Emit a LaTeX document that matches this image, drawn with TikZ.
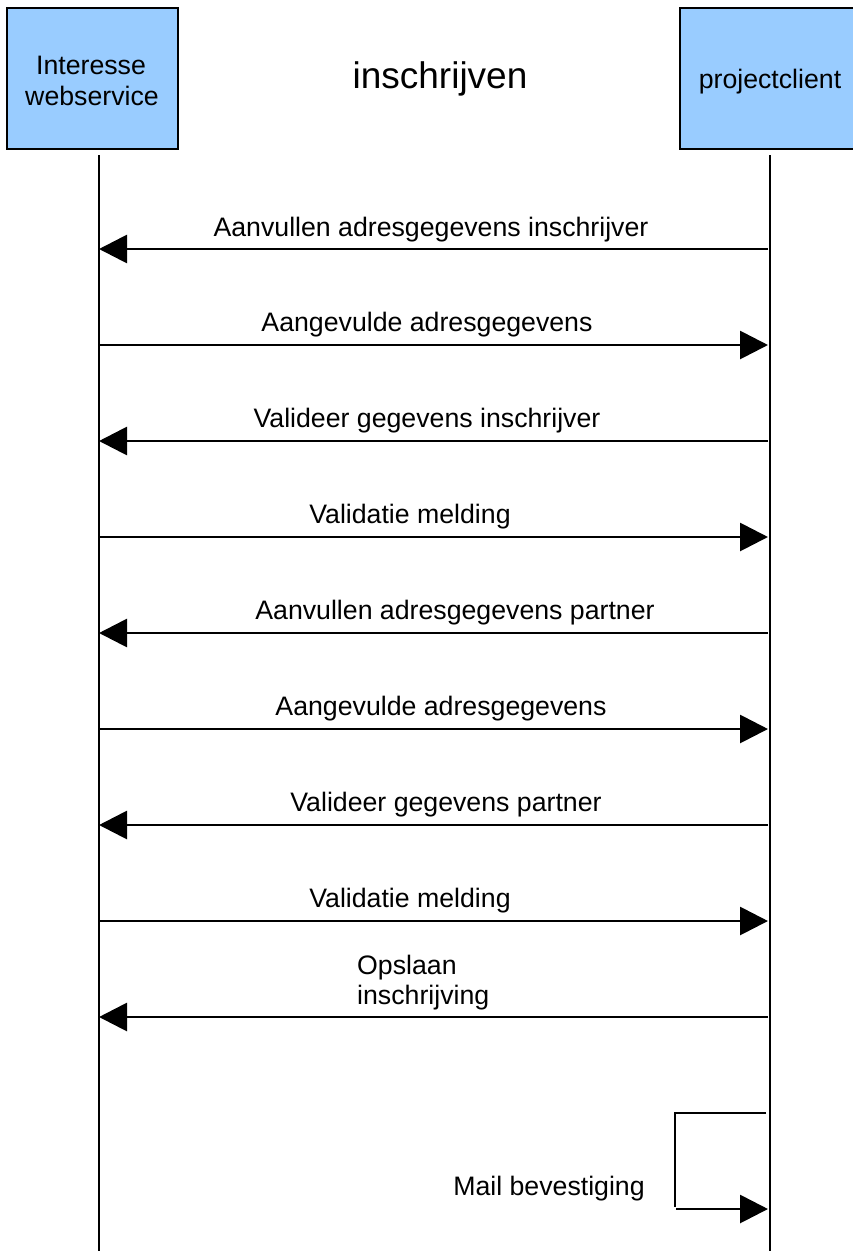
\documentclass[tikz,border=0pt]{standalone}
\usepackage{fontspec}
\setmainfont{Liberation Sans}
\usetikzlibrary{arrows.meta}
\begin{document}
\begin{tikzpicture}[x=1pt,y=-1pt,
  actor/.style={draw=black,line width=1.5pt,fill={rgb,255:red,153;green,204;blue,255}},
  life/.style={line width=1.5pt},
  msg/.style={line width=2.8pt,-{Triangle[length=28pt,width=28pt]}},
  lbl/.style={font=\fontsize{26.7}{30}\selectfont,anchor=base,inner sep=0pt},
  title/.style={font=\fontsize{37}{44}\selectfont,anchor=base,inner sep=0pt}]
\useasboundingbox (0,0) rectangle (853,1251);
% actor boxes
\draw[actor] (7,8) rectangle (178,149);
\draw[actor] (680,8) rectangle (860,149);
\node[lbl] (ia) at (91,74) {Interesse};
\node[lbl] (ib) at (92,105) {webservice};
\node[lbl] (pc) at (770,88) {projectclient};
\node[title] (t) at (440,88) {inschrijven};
% lifelines
\coordinate (L0) at (99,155); \coordinate (L1) at (99,1251);
\coordinate (R0) at (770,155); \coordinate (R1) at (770,1251);
\draw[life] (L0) -- (L1);
\draw[life] (R0) -- (R1);
% messages
\foreach \i/\y in {1/249,2/345,3/441,4/537,5/633,6/729,7/825,8/921,9/1017}{
  \coordinate (l\i) at (99,\y);
  \coordinate (r\i) at (768,\y);
}
\draw[msg] (r1) -- (l1);
\draw[msg] (l2) -- (r2);
\draw[msg] (r3) -- (l3);
\draw[msg] (l4) -- (r4);
\draw[msg] (r5) -- (l5);
\draw[msg] (l6) -- (r6);
\draw[msg] (r7) -- (l7);
\draw[msg] (l8) -- (r8);
\draw[msg] (r9) -- (l9);
\node[lbl] (m1) at (431,236) {Aanvullen adresgegevens inschrijver};
\node[lbl] (m2) at (427,331) {Aangevulde adresgegevens};
\node[lbl] (m3) at (427,427) {Valideer gegevens inschrijver};
\node[lbl] (m4) at (410,523) {Validatie melding};
\node[lbl] (m5) at (455,619) {Aanvullen adresgegevens partner};
\node[lbl] (m6) at (441,715) {Aangevulde adresgegevens};
\node[lbl] (m7) at (446,811) {Valideer gegevens partner};
\node[lbl] (m8) at (410,907) {Validatie melding};
\node[lbl,anchor=base west] (m9a) at (357,974) {Opslaan};
\node[lbl,anchor=base west] (m9b) at (357,1004) {inschrijving};
% self message
\coordinate (s0) at (766,1113);
\coordinate (s1) at (675,1113);
\coordinate (s2) at (675,1207);
\coordinate (s3) at (676,1209);
\coordinate (s4) at (768,1209);
\draw[line width=1.5pt] (s0) -- (s1) -- (s2);
\draw[msg] (s3) -- (s4);
\node[lbl] (m10) at (549,1195) {Mail bevestiging};
\end{tikzpicture}
\end{document}
